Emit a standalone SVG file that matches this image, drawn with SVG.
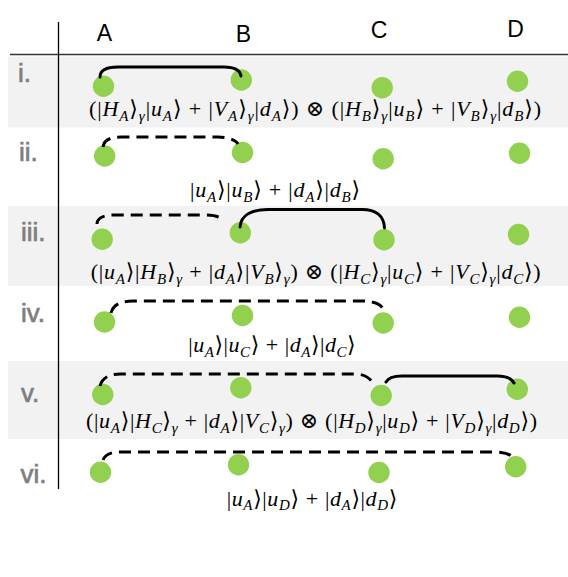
<svg xmlns="http://www.w3.org/2000/svg" width="568" height="577" viewBox="0 0 568 577">
<style>
.bg{fill:#f2f2f2}
.hd{font-family:"Liberation Sans",Arial,sans-serif;font-size:23px;fill:#000;text-anchor:middle}
.lb{font-family:"Liberation Sans",Arial,sans-serif;font-size:26px;fill:#7f7f7f;stroke:#7f7f7f;stroke-width:0.7}
.dot{fill:#92d050}
.m{font-family:"Liberation Serif","DejaVu Serif",serif;font-size:22px;fill:#000}
.i{font-style:italic}
.s{font-style:italic;font-size:15px}
.c{fill:none;stroke:#000;stroke-width:3;stroke-linecap:round}
.d{stroke-dasharray:12 7;stroke-linecap:butt}
</style>
<rect width="568" height="577" fill="#fff"/>
<g id="rows">
<rect class="bg" x="8" y="56.5" width="560" height="71"/>
<rect class="bg" x="8" y="206" width="560" height="80"/>
<rect class="bg" x="8" y="361" width="560" height="78"/>
</g>
<g id="axes">
<line x1="10" y1="54.5" x2="568" y2="54.5" stroke="#333" stroke-width="1.3"/>
<line x1="58.5" y1="22" x2="58.5" y2="489" stroke="#000" stroke-width="1.3"/>
</g>
<g id="headers">
<text class="hd" x="104.5" y="41">A</text>
<text class="hd" x="243.5" y="41.5">B</text>
<text class="hd" x="379" y="37.5">C</text>
<text class="hd" x="515.5" y="37">D</text>
</g>
<g id="labels">
<text class="lb" x="18" y="81.5">i.</text>
<text class="lb" x="19" y="160.5">ii.</text>
<text class="lb" x="21" y="240.5">iii.</text>
<text class="lb" x="21" y="321.5">iv.</text>
<text class="lb" x="21" y="401.5">v.</text>
<text class="lb" x="20.5" y="482.5">vi.</text>
</g>
<g id="row-i">
<circle class="dot" cx="103.5" cy="86.3" r="10.7"/>
<circle class="dot" cx="241.3" cy="80" r="10.7"/>
<circle class="dot" cx="382.2" cy="87.8" r="10.7"/>
<circle class="dot" cx="517.5" cy="81.2" r="10.7"/>
<text class="m" x="89" y="116" textLength="452" lengthAdjust="spacing">(|<tspan class="i">H</tspan><tspan class="s" dy="4.5">A</tspan><tspan dy="-4.5">⟩</tspan><tspan class="s" dy="4.5">γ</tspan><tspan dy="-4.5">|</tspan><tspan class="i">u</tspan><tspan class="s" dy="4.5">A</tspan><tspan dy="-4.5">⟩ + |</tspan><tspan class="i">V</tspan><tspan class="s" dy="4.5">A</tspan><tspan dy="-4.5">⟩</tspan><tspan class="s" dy="4.5">γ</tspan><tspan dy="-4.5">|</tspan><tspan class="i">d</tspan><tspan class="s" dy="4.5">A</tspan><tspan dy="-4.5">⟩) ⊗ (|</tspan><tspan class="i">H</tspan><tspan class="s" dy="4.5">B</tspan><tspan dy="-4.5">⟩</tspan><tspan class="s" dy="4.5">γ</tspan><tspan dy="-4.5">|</tspan><tspan class="i">u</tspan><tspan class="s" dy="4.5">B</tspan><tspan dy="-4.5">⟩ + |</tspan><tspan class="i">V</tspan><tspan class="s" dy="4.5">B</tspan><tspan dy="-4.5">⟩</tspan><tspan class="s" dy="4.5">γ</tspan><tspan dy="-4.5">|</tspan><tspan class="i">d</tspan><tspan class="s" dy="4.5">B</tspan><tspan dy="-4.5">⟩)</tspan></text>
</g>
<g id="row-ii">
<circle class="dot" cx="104.7" cy="156" r="10.7"/>
<circle class="dot" cx="242.5" cy="152.5" r="10.7"/>
<circle class="dot" cx="383.2" cy="158.8" r="10.7"/>
<circle class="dot" cx="519.5" cy="153.3" r="10.7"/>
<text class="m" x="190" y="197" textLength="170" lengthAdjust="spacing">|<tspan class="i">u</tspan><tspan class="s" dy="4.5">A</tspan><tspan dy="-4.5">⟩|</tspan><tspan class="i">u</tspan><tspan class="s" dy="4.5">B</tspan><tspan dy="-4.5">⟩ + |</tspan><tspan class="i">d</tspan><tspan class="s" dy="4.5">A</tspan><tspan dy="-4.5">⟩|</tspan><tspan class="i">d</tspan><tspan class="s" dy="4.5">B</tspan><tspan dy="-4.5">⟩</tspan></text>
</g>
<g id="row-iii">
<circle class="dot" cx="102.2" cy="239.2" r="10.7"/>
<circle class="dot" cx="240.3" cy="232.8" r="10.7"/>
<circle class="dot" cx="384" cy="239.7" r="10.7"/>
<circle class="dot" cx="518.5" cy="234.5" r="10.7"/>
<text class="m" x="90.7" y="279" textLength="450" lengthAdjust="spacing">(|<tspan class="i">u</tspan><tspan class="s" dy="4.5">A</tspan><tspan dy="-4.5">⟩|</tspan><tspan class="i">H</tspan><tspan class="s" dy="4.5">B</tspan><tspan dy="-4.5">⟩</tspan><tspan class="s" dy="4.5">γ</tspan><tspan dy="-4.5"> + |</tspan><tspan class="i">d</tspan><tspan class="s" dy="4.5">A</tspan><tspan dy="-4.5">⟩|</tspan><tspan class="i">V</tspan><tspan class="s" dy="4.5">B</tspan><tspan dy="-4.5">⟩</tspan><tspan class="s" dy="4.5">γ</tspan><tspan dy="-4.5">) ⊗ (|</tspan><tspan class="i">H</tspan><tspan class="s" dy="4.5">C</tspan><tspan dy="-4.5">⟩</tspan><tspan class="s" dy="4.5">γ</tspan><tspan dy="-4.5">|</tspan><tspan class="i">u</tspan><tspan class="s" dy="4.5">C</tspan><tspan dy="-4.5">⟩ + |</tspan><tspan class="i">V</tspan><tspan class="s" dy="4.5">C</tspan><tspan dy="-4.5">⟩</tspan><tspan class="s" dy="4.5">γ</tspan><tspan dy="-4.5">|</tspan><tspan class="i">d</tspan><tspan class="s" dy="4.5">C</tspan><tspan dy="-4.5">⟩)</tspan></text>
</g>
<g id="row-iv">
<circle class="dot" cx="104.5" cy="322" r="10.7"/>
<circle class="dot" cx="242.5" cy="315.5" r="10.7"/>
<circle class="dot" cx="383.2" cy="323" r="10.7"/>
<circle class="dot" cx="519.5" cy="317.2" r="10.7"/>
<text class="m" x="188.3" y="352" textLength="167.4" lengthAdjust="spacing">|<tspan class="i">u</tspan><tspan class="s" dy="4.5">A</tspan><tspan dy="-4.5">⟩|</tspan><tspan class="i">u</tspan><tspan class="s" dy="4.5">C</tspan><tspan dy="-4.5">⟩ + |</tspan><tspan class="i">d</tspan><tspan class="s" dy="4.5">A</tspan><tspan dy="-4.5">⟩|</tspan><tspan class="i">d</tspan><tspan class="s" dy="4.5">C</tspan><tspan dy="-4.5">⟩</tspan></text>
</g>
<g id="row-v">
<circle class="dot" cx="102.8" cy="394.5" r="10.7"/>
<circle class="dot" cx="240.8" cy="387.8" r="10.7"/>
<circle class="dot" cx="381.2" cy="395.5" r="10.7"/>
<circle class="dot" cx="517.3" cy="389.2" r="10.7"/>
<text class="m" x="86" y="428" textLength="451" lengthAdjust="spacing">(|<tspan class="i">u</tspan><tspan class="s" dy="4.5">A</tspan><tspan dy="-4.5">⟩|</tspan><tspan class="i">H</tspan><tspan class="s" dy="4.5">C</tspan><tspan dy="-4.5">⟩</tspan><tspan class="s" dy="4.5">γ</tspan><tspan dy="-4.5"> + |</tspan><tspan class="i">d</tspan><tspan class="s" dy="4.5">A</tspan><tspan dy="-4.5">⟩|</tspan><tspan class="i">V</tspan><tspan class="s" dy="4.5">C</tspan><tspan dy="-4.5">⟩</tspan><tspan class="s" dy="4.5">γ</tspan><tspan dy="-4.5">) ⊗ (|</tspan><tspan class="i">H</tspan><tspan class="s" dy="4.5">D</tspan><tspan dy="-4.5">⟩</tspan><tspan class="s" dy="4.5">γ</tspan><tspan dy="-4.5">|</tspan><tspan class="i">u</tspan><tspan class="s" dy="4.5">D</tspan><tspan dy="-4.5">⟩ + |</tspan><tspan class="i">V</tspan><tspan class="s" dy="4.5">D</tspan><tspan dy="-4.5">⟩</tspan><tspan class="s" dy="4.5">γ</tspan><tspan dy="-4.5">|</tspan><tspan class="i">d</tspan><tspan class="s" dy="4.5">D</tspan><tspan dy="-4.5">⟩)</tspan></text>
</g>
<g id="row-vi">
<circle class="dot" cx="100.5" cy="472.2" r="10.7"/>
<circle class="dot" cx="238.5" cy="464.7" r="10.7"/>
<circle class="dot" cx="379" cy="472.5" r="10.7"/>
<circle class="dot" cx="515.7" cy="466.7" r="10.7"/>
<text class="m" x="226.7" y="505.5" textLength="170.6" lengthAdjust="spacing">|<tspan class="i">u</tspan><tspan class="s" dy="4.5">A</tspan><tspan dy="-4.5">⟩|</tspan><tspan class="i">u</tspan><tspan class="s" dy="4.5">D</tspan><tspan dy="-4.5">⟩ + |</tspan><tspan class="i">d</tspan><tspan class="s" dy="4.5">A</tspan><tspan dy="-4.5">⟩|</tspan><tspan class="i">d</tspan><tspan class="s" dy="4.5">D</tspan><tspan dy="-4.5">⟩</tspan></text>
</g>
<g id="connectors">
<path class="c" d="M100,77 C100,70 106,67 118,67 L224,67 C234,67 240,70 241,76"/>
<path class="c d" d="M103,147 C104,140 110,137 122,137 L218,137 C228,137 236,140 238,144"/>
<path class="c d" d="M97,224 C97,218 103,215 115,215 L205,215 C215,215 221,217 223,221"/>
<path class="c" d="M240,227 C241,215 252,209.5 268,209.5 L362,209.5 C376,209.5 384,216 384.5,228"/>
<path class="c d" d="M111,313 C113,305 120,301 133,301 L362,301 C375,301 383,305 384.5,312"/>
<path class="c d" d="M100,386 C102,378 109,374 121,374 L355,374 C365,374 372,379 374,386"/>
<path class="c" d="M386,382 C388,378 393,376 402,376 L497,376 C507,376 512,379 514,383"/>
<path class="c d" d="M103,460 C105,455 110,452 120,452 L495,452 C506,452 512,455 514,459"/>
</g>
</svg>
